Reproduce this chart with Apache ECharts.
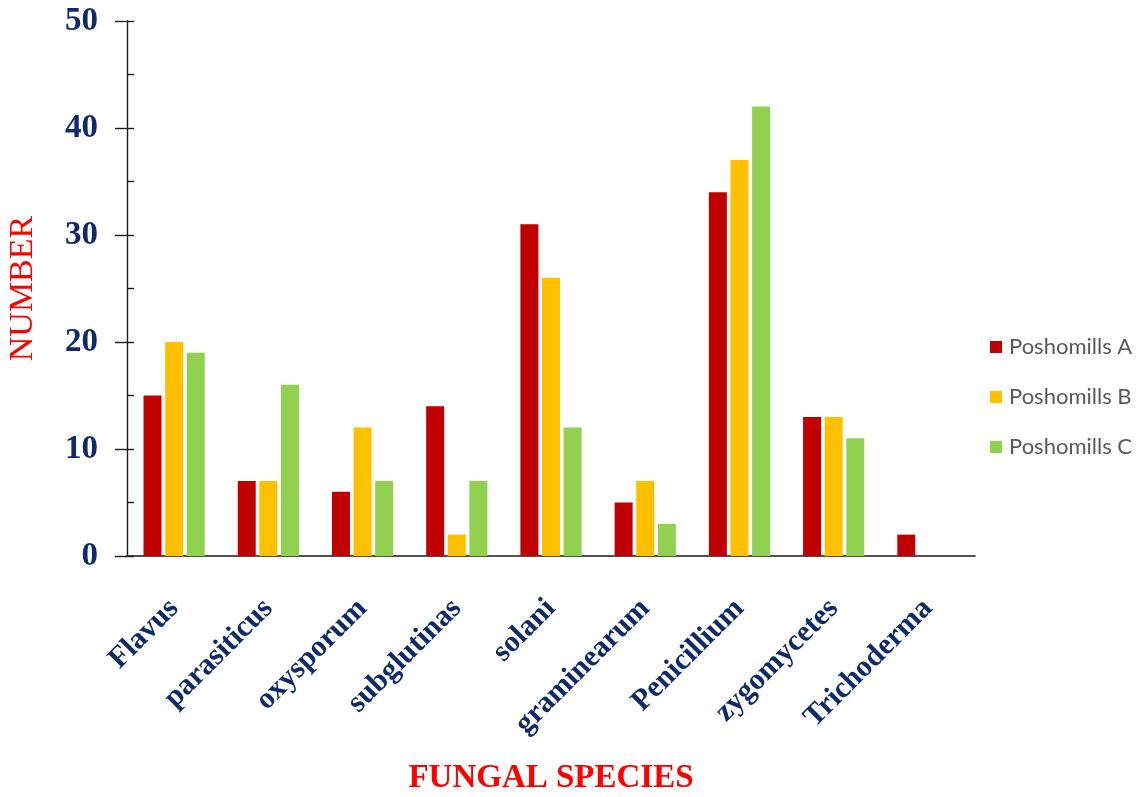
<!DOCTYPE html>
<html>
<head>
<meta charset="utf-8">
<title>Fungal species by mill</title>
<script src="https://cdn.jsdelivr.net/npm/echarts@6/dist/echarts.min.js"></script>
<style>
  html, body { margin: 0; padding: 0; background: #ffffff; }
  #chart { width: 1141px; height: 797px; }
</style>
</head>
<body>
<div id="chart"></div>
<script>
// Species counted at each mill
const species = ['Flavus', 'parasiticus', 'oxysporum', 'subglutinas', 'solani',
                 'graminearum', 'Penicillium', 'zygomycetes', 'Trichoderma'];
const millA = [15, 7, 6, 14, 31, 5, 34, 13, 2];
const millB = [20, 7, 12, 2, 26, 7, 37, 13, 0];
const millC = [19, 16, 7, 7, 12, 3, 42, 11, 0];
const seriesNames = ['Poshomills A', 'Poshomills B', 'Poshomills C'];
const seriesColors = ['#C00000', '#FFC000', '#92D050'];

const navy = '#0E2A6A';
const serif = '"Liberation Serif", "Times New Roman", serif';

const chart = echarts.init(document.getElementById('chart'), null, { renderer: 'canvas' });

const makeBar = (name, data, color) => ({
  name: name,
  type: 'bar',
  data: data,
  barWidth: 18,
  barGap: '20%',
  yAxisIndex: 0,
  itemStyle: { color: color }
});

chart.setOption({
  animation: false,
  backgroundColor: '#ffffff',
  grid: {
    left: 127, right: 166, top: 21, bottom: 241,
    containLabel: false,
    outerBoundsMode: 'none'
  },
  legend: {
    orient: 'vertical',
    left: 985,
    top: 331,
    itemWidth: 12,
    itemHeight: 12,
    itemGap: 28,
    icon: 'rect',
    data: seriesNames,
    textStyle: {
      fontFamily: 'Lato, "Open Sans", sans-serif',
      fontSize: 22,
      color: '#595959',
      padding: [0, 0, 0, 2]
    }
  },
  xAxis: {
    type: 'category',
    data: species,
    name: 'FUNGAL SPECIES',
    nameLocation: 'middle',
    nameGap: 206,
    nameTextStyle: { fontFamily: serif, fontWeight: 'bold', fontSize: 33, color: '#FF0000' },
    axisLine: { show: true, lineStyle: { color: '#1a1a1a', width: 1.6 } },
    axisTick: { show: false },
    axisLabel: {
      rotate: 45,
      interval: 0,
      margin: 48,
      fontFamily: serif,
      fontWeight: 'bold',
      fontSize: 30,
      color: navy
    },
    splitLine: { show: false }
  },
  yAxis: [
    {
      type: 'value',
      min: 0,
      max: 50,
      interval: 10,
      name: 'NUMBER',
      nameLocation: 'middle',
      nameGap: 87,
      nameRotate: 90,
      nameTextStyle: { fontFamily: serif, fontSize: 34, color: '#FF0000' },
      axisLine: { show: true, lineStyle: { color: '#1a1a1a', width: 1.4 } },
      axisTick: { show: true, inside: false, length: 12, lineStyle: { color: '#1a1a1a', width: 1.4 } },
      axisLabel: {
        margin: 29,
        fontFamily: serif,
        fontWeight: 'bold',
        fontSize: 33,
        color: navy
      },
      splitLine: { show: false }
    },
    {
      // inner tick marks every 5 units on the same scale
      type: 'value',
      position: 'left',
      offset: 0,
      min: 0,
      max: 50,
      interval: 5,
      axisLine: { show: false },
      axisTick: { show: true, inside: true, length: 7, lineStyle: { color: '#1a1a1a', width: 1.4 } },
      axisLabel: { show: false },
      splitLine: { show: false }
    }
  ],
  series: [
    makeBar(seriesNames[0], millA, seriesColors[0]),
    makeBar(seriesNames[1], millB, seriesColors[1]),
    makeBar(seriesNames[2], millC, seriesColors[2])
  ]
});
</script>
</body>
</html>
